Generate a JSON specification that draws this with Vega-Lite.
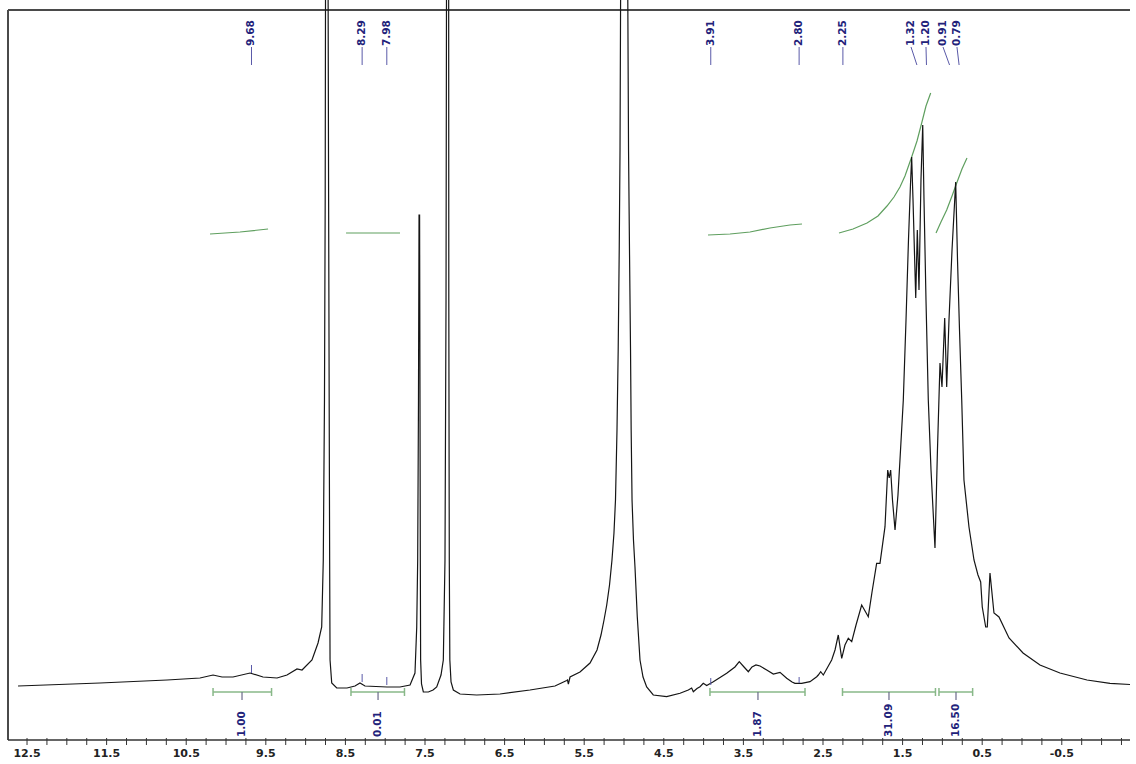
{
  "$schema": "https://vega.github.io/schema/vega-lite/v6.json",
  "width": 1122,
  "height": 740,
  "autosize": {"type": "none"},
  "padding": {"left": 8, "top": 0, "right": 6, "bottom": 24},
  "background": "white",
  "config": {"view": {"stroke": null}},
  "datasets": {
    "spectrum": [
      {"ppm": 12.613, "v": 54}, {"ppm": 11.583, "v": 57}, {"ppm": 10.741, "v": 60}, {"ppm": 10.327, "v": 62},
      {"ppm": 10.163, "v": 65}, {"ppm": 10.05, "v": 63}, {"ppm": 9.912, "v": 63}, {"ppm": 9.698, "v": 67},
      {"ppm": 9.535, "v": 63}, {"ppm": 9.359, "v": 62}, {"ppm": 9.234, "v": 65}, {"ppm": 9.108, "v": 71},
      {"ppm": 9.045, "v": 70}, {"ppm": 8.92, "v": 80}, {"ppm": 8.844, "v": 97}, {"ppm": 8.798, "v": 113},
      {"ppm": 8.778, "v": 180}, {"ppm": 8.763, "v": 340}, {"ppm": 8.754, "v": 540}, {"ppm": 8.749, "v": 800},
      {"ppm": 8.719, "v": 800}, {"ppm": 8.711, "v": 540}, {"ppm": 8.704, "v": 340}, {"ppm": 8.698, "v": 180},
      {"ppm": 8.693, "v": 80}, {"ppm": 8.672, "v": 57}, {"ppm": 8.609, "v": 52}, {"ppm": 8.48, "v": 52},
      {"ppm": 8.38, "v": 54}, {"ppm": 8.317, "v": 57}, {"ppm": 8.254, "v": 54}, {"ppm": 7.977, "v": 53},
      {"ppm": 7.814, "v": 53}, {"ppm": 7.688, "v": 55}, {"ppm": 7.626, "v": 67}, {"ppm": 7.604, "v": 113},
      {"ppm": 7.592, "v": 180}, {"ppm": 7.582, "v": 340}, {"ppm": 7.575, "v": 525}, {"ppm": 7.568, "v": 525},
      {"ppm": 7.563, "v": 340}, {"ppm": 7.559, "v": 180}, {"ppm": 7.555, "v": 80}, {"ppm": 7.544, "v": 56},
      {"ppm": 7.521, "v": 48}, {"ppm": 7.458, "v": 48}, {"ppm": 7.399, "v": 50}, {"ppm": 7.353, "v": 53},
      {"ppm": 7.299, "v": 65}, {"ppm": 7.27, "v": 80}, {"ppm": 7.249, "v": 180}, {"ppm": 7.236, "v": 440},
      {"ppm": 7.229, "v": 800}, {"ppm": 7.203, "v": 800}, {"ppm": 7.201, "v": 440}, {"ppm": 7.195, "v": 180},
      {"ppm": 7.188, "v": 80}, {"ppm": 7.173, "v": 58}, {"ppm": 7.144, "v": 50}, {"ppm": 7.06, "v": 46},
      {"ppm": 6.851, "v": 45}, {"ppm": 6.558, "v": 46}, {"ppm": 6.181, "v": 50}, {"ppm": 5.867, "v": 54},
      {"ppm": 5.72, "v": 59.5}, {"ppm": 5.71, "v": 60}, {"ppm": 5.699, "v": 56}, {"ppm": 5.678, "v": 63},
      {"ppm": 5.553, "v": 68}, {"ppm": 5.427, "v": 77}, {"ppm": 5.339, "v": 90}, {"ppm": 5.289, "v": 105},
      {"ppm": 5.251, "v": 120}, {"ppm": 5.217, "v": 135}, {"ppm": 5.182, "v": 155}, {"ppm": 5.151, "v": 180},
      {"ppm": 5.126, "v": 207}, {"ppm": 5.107, "v": 240}, {"ppm": 5.088, "v": 310}, {"ppm": 5.073, "v": 390},
      {"ppm": 5.06, "v": 490}, {"ppm": 5.05, "v": 590}, {"ppm": 5.04, "v": 800}, {"ppm": 4.956, "v": 800},
      {"ppm": 4.943, "v": 590}, {"ppm": 4.931, "v": 490}, {"ppm": 4.918, "v": 390}, {"ppm": 4.91, "v": 310},
      {"ppm": 4.899, "v": 240}, {"ppm": 4.881, "v": 200}, {"ppm": 4.862, "v": 173}, {"ppm": 4.833, "v": 123},
      {"ppm": 4.799, "v": 80}, {"ppm": 4.761, "v": 63}, {"ppm": 4.715, "v": 53}, {"ppm": 4.632, "v": 45},
      {"ppm": 4.464, "v": 43.3}, {"ppm": 4.296, "v": 46.7}, {"ppm": 4.192, "v": 50}, {"ppm": 4.15, "v": 52},
      {"ppm": 4.129, "v": 48.3}, {"ppm": 4.083, "v": 51.5}, {"ppm": 4.045, "v": 53.3}, {"ppm": 4.004, "v": 56.7},
      {"ppm": 3.961, "v": 54.5}, {"ppm": 3.878, "v": 58.3}, {"ppm": 3.71, "v": 66.7}, {"ppm": 3.606, "v": 73},
      {"ppm": 3.552, "v": 78.3}, {"ppm": 3.492, "v": 73}, {"ppm": 3.438, "v": 68.3}, {"ppm": 3.392, "v": 73},
      {"ppm": 3.342, "v": 75}, {"ppm": 3.291, "v": 74}, {"ppm": 3.207, "v": 70}, {"ppm": 3.124, "v": 66},
      {"ppm": 3.04, "v": 67.7}, {"ppm": 2.956, "v": 61.7}, {"ppm": 2.889, "v": 58}, {"ppm": 2.852, "v": 56.7},
      {"ppm": 2.768, "v": 56.7}, {"ppm": 2.663, "v": 58.3}, {"ppm": 2.579, "v": 63.3}, {"ppm": 2.559, "v": 65},
      {"ppm": 2.529, "v": 68.3}, {"ppm": 2.496, "v": 65}, {"ppm": 2.391, "v": 80}, {"ppm": 2.349, "v": 90},
      {"ppm": 2.308, "v": 105}, {"ppm": 2.265, "v": 81.7}, {"ppm": 2.224, "v": 95}, {"ppm": 2.182, "v": 101.7},
      {"ppm": 2.139, "v": 98.3}, {"ppm": 2.085, "v": 115}, {"ppm": 2.014, "v": 135}, {"ppm": 1.931, "v": 123.3},
      {"ppm": 1.884, "v": 148}, {"ppm": 1.826, "v": 176.7}, {"ppm": 1.784, "v": 176.7}, {"ppm": 1.721, "v": 213.3},
      {"ppm": 1.687, "v": 270}, {"ppm": 1.668, "v": 262}, {"ppm": 1.65, "v": 270}, {"ppm": 1.627, "v": 240},
      {"ppm": 1.595, "v": 210}, {"ppm": 1.558, "v": 245}, {"ppm": 1.533, "v": 280}, {"ppm": 1.491, "v": 340},
      {"ppm": 1.457, "v": 420}, {"ppm": 1.426, "v": 500}, {"ppm": 1.401, "v": 555}, {"ppm": 1.386, "v": 583},
      {"ppm": 1.369, "v": 540}, {"ppm": 1.335, "v": 442}, {"ppm": 1.315, "v": 510}, {"ppm": 1.294, "v": 450},
      {"ppm": 1.269, "v": 560}, {"ppm": 1.247, "v": 615}, {"ppm": 1.231, "v": 540}, {"ppm": 1.206, "v": 440},
      {"ppm": 1.177, "v": 340}, {"ppm": 1.143, "v": 270}, {"ppm": 1.093, "v": 192}, {"ppm": 1.062, "v": 290},
      {"ppm": 1.03, "v": 377}, {"ppm": 1.005, "v": 353}, {"ppm": 0.971, "v": 422}, {"ppm": 0.946, "v": 353},
      {"ppm": 0.917, "v": 420}, {"ppm": 0.879, "v": 490}, {"ppm": 0.833, "v": 558}, {"ppm": 0.81, "v": 480},
      {"ppm": 0.785, "v": 410}, {"ppm": 0.757, "v": 340}, {"ppm": 0.729, "v": 260}, {"ppm": 0.666, "v": 213},
      {"ppm": 0.603, "v": 180}, {"ppm": 0.553, "v": 165}, {"ppm": 0.519, "v": 158}, {"ppm": 0.499, "v": 133},
      {"ppm": 0.456, "v": 113}, {"ppm": 0.436, "v": 113}, {"ppm": 0.402, "v": 167}, {"ppm": 0.352, "v": 127},
      {"ppm": 0.289, "v": 123}, {"ppm": 0.163, "v": 102}, {"ppm": -0.013, "v": 87}, {"ppm": -0.226, "v": 75},
      {"ppm": -0.477, "v": 67}, {"ppm": -0.817, "v": 60}, {"ppm": -1.106, "v": 56.7}, {"ppm": -1.357, "v": 55.5}
    ],
    "integralCurves": [
      {"id": "a", "ppm": 10.201, "v": 506}, {"id": "a", "ppm": 9.824, "v": 508}, {"id": "a", "ppm": 9.472, "v": 511},
      {"id": "b", "ppm": 8.492, "v": 507}, {"id": "b", "ppm": 7.814, "v": 507},
      {"id": "c", "ppm": 3.945, "v": 505}, {"id": "c", "ppm": 3.668, "v": 506}, {"id": "c", "ppm": 3.417, "v": 508},
      {"id": "c", "ppm": 3.166, "v": 512}, {"id": "c", "ppm": 2.915, "v": 515}, {"id": "c", "ppm": 2.764, "v": 516},
      {"id": "d", "ppm": 2.299, "v": 507}, {"id": "d", "ppm": 2.123, "v": 511}, {"id": "d", "ppm": 1.947, "v": 517},
      {"id": "d", "ppm": 1.809, "v": 524}, {"id": "d", "ppm": 1.696, "v": 534}, {"id": "d", "ppm": 1.608, "v": 543},
      {"id": "d", "ppm": 1.533, "v": 553}, {"id": "d", "ppm": 1.47, "v": 564}, {"id": "d", "ppm": 1.386, "v": 583},
      {"id": "d", "ppm": 1.319, "v": 599}, {"id": "d", "ppm": 1.26, "v": 617}, {"id": "d", "ppm": 1.206, "v": 634},
      {"id": "d", "ppm": 1.147, "v": 647},
      {"id": "e", "ppm": 1.08, "v": 507}, {"id": "e", "ppm": 1.018, "v": 518}, {"id": "e", "ppm": 0.946, "v": 530},
      {"id": "e", "ppm": 0.879, "v": 544}, {"id": "e", "ppm": 0.82, "v": 557}, {"id": "e", "ppm": 0.754, "v": 571},
      {"id": "e", "ppm": 0.691, "v": 582}
    ],
    "brackets": [
      {"label": "1.00", "from": 10.163, "to": 9.428, "center": 9.799},
      {"label": "0.01", "from": 8.43, "to": 7.758, "center": 8.09},
      {"label": "1.87", "from": 3.92, "to": 2.726, "center": 3.317},
      {"label": "31.09", "from": 2.255, "to": 1.087, "center": 1.671},
      {"label": "16.50", "from": 1.043, "to": 0.62, "center": 0.829}
    ],
    "peaks": [
      {"label": "9.68", "ppm": 9.68, "pos": 9.68},
      {"label": "8.29", "ppm": 8.29, "pos": 8.29},
      {"label": "7.98", "ppm": 7.98, "pos": 7.98},
      {"label": "3.91", "ppm": 3.91, "pos": 3.91},
      {"label": "2.80", "ppm": 2.8, "pos": 2.8},
      {"label": "2.25", "ppm": 2.25, "pos": 2.25},
      {"label": "1.32", "ppm": 1.32, "pos": 1.394},
      {"label": "1.20", "ppm": 1.2, "pos": 1.206},
      {"label": "0.91", "ppm": 0.91, "pos": 0.992},
      {"label": "0.79", "ppm": 0.79, "pos": 0.817}
    ],
    "markers": [
      {"ppm": 9.68, "lo": 67, "hi": 75},
      {"ppm": 8.29, "lo": 58, "hi": 66},
      {"ppm": 7.98, "lo": 55, "hi": 63},
      {"ppm": 3.91, "lo": 55, "hi": 62},
      {"ppm": 2.8, "lo": 57, "hi": 63}
    ],
    "ticks": [
      {"ppm": 12.5, "label": "12.5"}, {"ppm": 12.25, "label": ""}, {"ppm": 12.0, "label": ""}, {"ppm": 11.75, "label": ""},
      {"ppm": 11.5, "label": "11.5"}, {"ppm": 11.25, "label": ""}, {"ppm": 11.0, "label": ""}, {"ppm": 10.75, "label": ""},
      {"ppm": 10.5, "label": "10.5"}, {"ppm": 10.25, "label": ""}, {"ppm": 10.0, "label": ""}, {"ppm": 9.75, "label": ""},
      {"ppm": 9.5, "label": "9.5"}, {"ppm": 9.25, "label": ""}, {"ppm": 9.0, "label": ""}, {"ppm": 8.75, "label": ""},
      {"ppm": 8.5, "label": "8.5"}, {"ppm": 8.25, "label": ""}, {"ppm": 8.0, "label": ""}, {"ppm": 7.75, "label": ""},
      {"ppm": 7.5, "label": "7.5"}, {"ppm": 7.25, "label": ""}, {"ppm": 7.0, "label": ""}, {"ppm": 6.75, "label": ""},
      {"ppm": 6.5, "label": "6.5"}, {"ppm": 6.25, "label": ""}, {"ppm": 6.0, "label": ""}, {"ppm": 5.75, "label": ""},
      {"ppm": 5.5, "label": "5.5"}, {"ppm": 5.25, "label": ""}, {"ppm": 5.0, "label": ""}, {"ppm": 4.75, "label": ""},
      {"ppm": 4.5, "label": "4.5"}, {"ppm": 4.25, "label": ""}, {"ppm": 4.0, "label": ""}, {"ppm": 3.75, "label": ""},
      {"ppm": 3.5, "label": "3.5"}, {"ppm": 3.25, "label": ""}, {"ppm": 3.0, "label": ""}, {"ppm": 2.75, "label": ""},
      {"ppm": 2.5, "label": "2.5"}, {"ppm": 2.25, "label": ""}, {"ppm": 2.0, "label": ""}, {"ppm": 1.75, "label": ""},
      {"ppm": 1.5, "label": "1.5"}, {"ppm": 1.25, "label": ""}, {"ppm": 1.0, "label": ""}, {"ppm": 0.75, "label": ""},
      {"ppm": 0.5, "label": "0.5"}, {"ppm": 0.25, "label": ""}, {"ppm": 0.0, "label": ""}, {"ppm": -0.25, "label": ""},
      {"ppm": -0.5, "label": "-0.5"}, {"ppm": -0.75, "label": ""}, {"ppm": -1.0, "label": ""}, {"ppm": -1.25, "label": ""}
    ],
    "frame": [
      {"left": 12.739, "right": -1.357, "top": 730, "bottom": 0}
    ]
  },
  "layer": [
    {
      "data": {"name": "frame"},
      "mark": {"type": "rule", "color": "#4a4a4a", "strokeWidth": 2},
      "encoding": {
        "x": {"field": "left", "type": "quantitative", "scale": {"domain": [-1.357, 12.739], "reverse": true, "nice": false, "zero": false}, "axis": null},
        "y": {"field": "bottom", "type": "quantitative", "scale": {"domain": [0, 740], "nice": false, "zero": false}, "axis": null},
        "y2": {"field": "top"}
      }
    },
    {
      "data": {"name": "frame"},
      "mark": {"type": "rule", "color": "#4a4a4a", "strokeWidth": 2},
      "encoding": {
        "x": {"field": "left", "type": "quantitative"},
        "x2": {"field": "right"},
        "y": {"field": "top", "type": "quantitative"}
      }
    },
    {
      "data": {"name": "frame"},
      "mark": {"type": "rule", "color": "#333333", "strokeWidth": 1.5},
      "encoding": {
        "x": {"field": "left", "type": "quantitative"},
        "x2": {"field": "right"},
        "y": {"field": "bottom", "type": "quantitative"}
      }
    },
    {
      "data": {"name": "ticks"},
      "mark": {"type": "rule", "color": "#333333", "strokeWidth": 1},
      "encoding": {
        "x": {"field": "ppm", "type": "quantitative"},
        "y": {"datum": 2, "type": "quantitative"},
        "y2": {"datum": -5}
      }
    },
    {
      "data": {"name": "ticks"},
      "mark": {"type": "text", "baseline": "middle", "align": "center", "font": "DejaVu Sans", "fontSize": 11, "fontWeight": "bold", "color": "#222222"},
      "encoding": {
        "x": {"field": "ppm", "type": "quantitative"},
        "y": {"datum": -14, "type": "quantitative"},
        "text": {"field": "label"}
      }
    },
    {
      "data": {"name": "integralCurves"},
      "mark": {"type": "line", "color": "#5f9f5f", "strokeWidth": 1.2},
      "encoding": {
        "x": {"field": "ppm", "type": "quantitative"},
        "y": {"field": "v", "type": "quantitative"},
        "detail": {"field": "id"}
      }
    },
    {
      "data": {"name": "spectrum"},
      "mark": {"type": "line", "color": "#151515", "strokeWidth": 1.2, "clip": true},
      "encoding": {
        "x": {"field": "ppm", "type": "quantitative"},
        "y": {"field": "v", "type": "quantitative"}
      }
    },
    {
      "data": {"name": "markers"},
      "mark": {"type": "rule", "color": "#5a5aa8", "strokeWidth": 1},
      "encoding": {
        "x": {"field": "ppm", "type": "quantitative"},
        "y": {"field": "lo", "type": "quantitative"},
        "y2": {"field": "hi"}
      }
    },
    {
      "data": {"name": "brackets"},
      "mark": {"type": "rule", "color": "#88b888", "strokeWidth": 1.5},
      "encoding": {
        "x": {"field": "from", "type": "quantitative"},
        "x2": {"field": "to"},
        "y": {"datum": 48, "type": "quantitative"}
      }
    },
    {
      "data": {"name": "brackets"},
      "mark": {"type": "rule", "color": "#88b888", "strokeWidth": 1.5},
      "encoding": {
        "x": {"field": "from", "type": "quantitative"},
        "y": {"datum": 44, "type": "quantitative"},
        "y2": {"datum": 52}
      }
    },
    {
      "data": {"name": "brackets"},
      "mark": {"type": "rule", "color": "#88b888", "strokeWidth": 1.5},
      "encoding": {
        "x": {"field": "to", "type": "quantitative"},
        "y": {"datum": 44, "type": "quantitative"},
        "y2": {"datum": 52}
      }
    },
    {
      "data": {"name": "brackets"},
      "mark": {"type": "rule", "color": "#6a6a8a", "strokeWidth": 1.2},
      "encoding": {
        "x": {"field": "center", "type": "quantitative"},
        "y": {"datum": 40, "type": "quantitative"},
        "y2": {"datum": 48}
      }
    },
    {
      "data": {"name": "brackets"},
      "mark": {"type": "text", "angle": 270, "align": "left", "baseline": "middle", "font": "DejaVu Sans", "fontSize": 10.5, "fontWeight": "bold", "color": "#22227a"},
      "encoding": {
        "x": {"field": "center", "type": "quantitative"},
        "y": {"datum": 3, "type": "quantitative"},
        "text": {"field": "label"}
      }
    },
    {
      "data": {"name": "peaks"},
      "mark": {"type": "rule", "color": "#5a5aa8", "strokeWidth": 1},
      "encoding": {
        "x": {"field": "pos", "type": "quantitative"},
        "x2": {"field": "ppm"},
        "y": {"datum": 693, "type": "quantitative"},
        "y2": {"datum": 675}
      }
    },
    {
      "data": {"name": "peaks"},
      "mark": {"type": "text", "angle": 270, "align": "left", "baseline": "middle", "font": "DejaVu Sans", "fontSize": 10.5, "fontWeight": "bold", "color": "#22227a"},
      "encoding": {
        "x": {"field": "pos", "type": "quantitative"},
        "y": {"datum": 694, "type": "quantitative"},
        "text": {"field": "label"}
      }
    }
  ]
}
